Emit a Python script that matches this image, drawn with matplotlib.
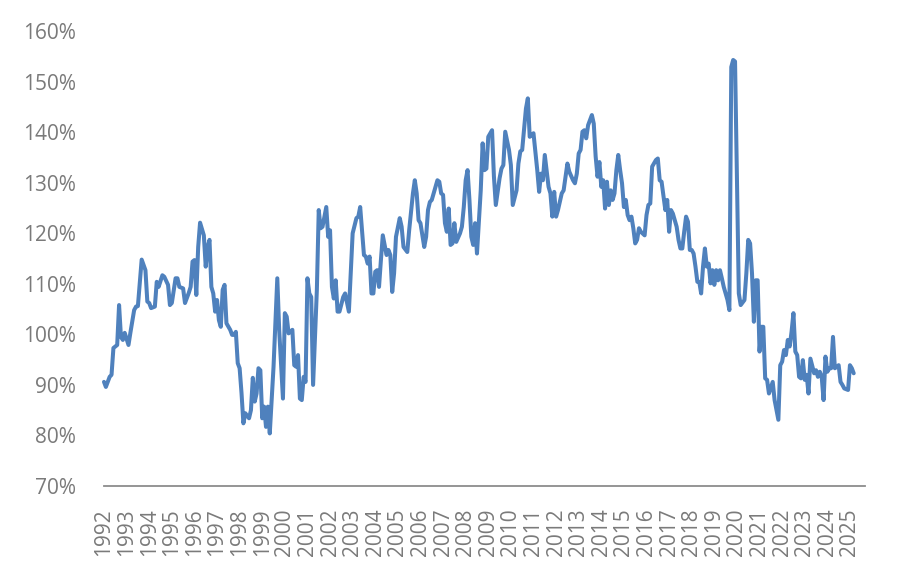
import matplotlib
matplotlib.use("Agg")
import matplotlib.pyplot as plt
import numpy as np

# months counted from Jan 1992, value in %
month_offset = [
    0, 1, 3, 4, 5, 7, 8, 9, 10, 11, 13, 14, 16, 17, 18, 20, 22, 23, 24, 25, 27, 28, 29, 31, 32, 34, 35,
    36, 38, 39, 40, 42, 43, 45, 46, 47, 48, 49, 50, 51, 53, 54, 55, 56, 57, 58, 59, 60, 61, 62, 63, 64,
    65, 67, 68, 69, 70, 71, 72, 73, 74, 75, 77, 78, 79,
    80, 81, 82, 83, 84, 85, 86, 87, 88, 90, 92, 93, 95, 96, 97, 98, 100, 101, 102, 103, 104, 105, 106,
    107, 108, 109, 110, 111, 113, 114, 115, 116, 118, 119, 120, 121, 122, 123, 124, 125, 127, 128, 130,
    131, 132, 134, 135, 136, 138, 139, 140, 141, 142, 143, 144, 145, 146, 147, 148, 150, 151, 152, 153,
    154, 155, 157, 158, 159, 161, 162,
    164, 165, 166, 167, 168, 169, 170, 171, 172, 173, 174, 176, 177, 178, 179, 180, 181, 182, 183, 184,
    185, 186, 187, 189, 190, 191, 192, 193, 194, 195, 196, 197, 198, 200, 201, 202, 203, 204, 206, 207,
    208, 210, 211, 212, 213, 215, 216, 217, 219, 220, 221, 222, 224, 225, 226, 227, 228, 230, 231, 232,
    233, 234, 236, 237, 238, 239, 240, 241, 243, 244,
    246, 247, 249, 250, 251, 252, 253, 254, 255, 256, 257, 259, 260, 261, 262, 263, 264, 265, 266, 267,
    268, 269, 270, 271, 272, 273, 274, 275, 276, 277, 278, 279, 280, 281, 282, 283, 284, 285, 287, 288,
    289, 290, 291, 293, 294, 295, 296, 298, 299, 300, 301, 302, 304, 305, 306, 307, 308, 309, 310, 311,
    312, 313, 314, 315, 316, 317, 318, 319, 320, 321, 322, 323, 324, 325, 326, 327,
    328, 329, 331, 332, 333, 334, 335, 337, 338, 340, 341, 342, 343, 344, 345, 346, 347, 348, 349, 350,
    351, 352, 353, 355, 356, 358, 359, 360, 361, 362, 363, 364, 365, 366, 367, 368, 369, 370, 371, 372,
    373, 374, 375, 377, 378, 379, 380, 381, 382, 383, 384, 385, 386, 387, 388, 389, 390, 391, 392, 393,
    395, 396, 397, 398,
]
value = [
    90.6, 89.6, 91.6, 92.0, 97.3, 97.9, 105.8, 99.5, 98.9, 100.3, 97.9, 100.3, 104.8, 105.5, 105.6, 114.8,
    112.7, 106.5, 106.2, 105.2, 105.5, 110.4, 109.4, 111.7, 111.4, 109.8, 105.8,
    106.2, 111.1, 111.1, 109.4, 109.1, 106.2, 108.2, 109.4, 114.4, 114.7, 107.8, 117.3, 122.1, 119.6,
    113.4, 117.3, 118.7, 109.4, 108.1, 104.5, 106.8, 102.8, 101.5, 108.8, 109.8,
    102.2, 100.9, 99.9, 99.9, 100.5, 94.3, 93.3, 88.4, 82.4, 84.4, 83.4, 85.0, 91.4,
    86.7, 88.3, 93.3, 92.9, 83.4, 85.7, 81.7, 85.7, 80.4, 93.6, 111.1, 100.9, 87.3, 104.2, 103.5, 100.2,
    100.9, 93.9, 93.6, 95.9, 87.3, 87.0, 91.6, 90.6, 111.1, 108.1, 107.4, 90.0, 108.8, 124.6, 121.0,
    121.3, 125.2, 119.3, 120.6, 109.4, 107.1, 110.7, 104.5, 104.5, 107.4, 108.1, 104.5, 112.1, 120.0,
    123.0, 123.3, 125.2, 115.7, 115.4, 114.0, 115.4, 108.1, 108.1, 112.4, 112.7, 109.4, 114.7, 119.6,
    115.7, 116.7, 115.7, 108.4, 112.1, 119.3, 123.0, 121.3, 117.3, 116.3, 120.6,
    127.9, 130.5, 127.9, 122.6, 122.0, 119.6, 117.3, 119.3, 124.6, 126.2, 126.6, 129.2, 130.5, 130.2,
    127.9, 127.6, 122.0, 120.3, 124.9, 117.7, 118.0, 122.0, 118.3, 120.0, 121.3, 125.2, 130.5, 132.5,
    126.6, 119.3, 117.7, 122.0, 116.0, 128.5, 137.8, 132.5, 132.8, 139.1, 140.4, 131.2, 125.6, 130.9,
    132.8, 133.5, 140.1, 136.5, 133.5, 125.6, 128.5, 133.8, 136.2, 136.5, 144.7, 146.7, 139.1, 139.4,
    139.8, 132.5, 128.2, 131.8, 130.5, 135.5, 129.2, 127.9, 123.3, 128.2, 123.3, 124.6, 127.9, 128.5,
    133.8, 132.2, 130.5, 129.9, 131.8, 135.8, 136.5, 140.1, 140.4, 138.8, 141.4, 143.4, 141.7, 135.2,
    131.2, 134.1, 129.2, 130.5, 124.9, 130.2, 125.6, 128.5, 126.6, 127.9, 132.5, 135.5, 132.5, 129.9,
    125.2, 126.6, 123.6, 122.6, 123.3, 121.0, 118.0, 118.7, 121.0, 120.3, 119.6, 123.6, 125.6, 125.9,
    133.2, 134.5, 134.8, 130.5, 130.2, 124.6, 126.6, 120.3, 124.6, 123.9, 121.3, 118.7, 117.0, 117.0,
    120.3, 123.3, 122.3, 116.7, 116.7, 116.0, 113.4, 110.4, 110.4, 108.1, 113.4, 117.0, 113.4, 114.0,
    110.1, 112.7, 109.8, 112.7, 110.7, 112.7,
    111.1, 109.4, 106.8, 104.8, 152.9, 154.3, 154.0, 108.1, 105.8, 106.8, 112.1, 118.7, 118.0, 112.1,
    102.5, 110.7, 110.7, 96.6, 101.5, 101.5, 91.3, 91.0, 88.3, 90.6, 87.0, 83.1, 93.9, 94.6, 96.9, 95.9,
    98.9, 97.6, 100.5, 104.2, 96.6, 95.9, 91.6, 91.3, 94.9, 91.0, 92.0, 88.3, 95.2, 92.3, 92.9, 91.6,
    92.6, 91.6, 87.0, 95.6, 92.6, 93.3, 93.3, 99.5, 93.3, 93.6, 93.9, 90.6, 90.0, 89.3, 89.0, 93.9,
    93.3, 92.3,
]
years = list(range(1992, 2026))

grey = "#7a7a7a"
plt.rcParams["font.family"] = ["Open Sans", "DejaVu Sans"]

fig = plt.figure(figsize=(9.02, 5.88), dpi=100)
ax = fig.add_axes([0.1153, 0.1735, 0.8437, 0.7735])

ax.plot(month_offset, value, color="#4F81BD", linewidth=2.9, solid_joinstyle="round",
        solid_capstyle="round", clip_on=False)

ax.set_xlim(0, 404)
ax.set_ylim(70, 160)
ax.set_yticks(np.arange(70, 161, 10))
ax.set_yticklabels([f"{v}%" for v in range(70, 161, 10)])
ax.set_xticks([12 * k for k in range(len(years))])
ax.set_xticklabels([str(y) for y in years], rotation=90, va="top", ha="center")

ax.tick_params(axis="y", length=0, pad=20, labelsize=15, labelcolor=grey)
ax.tick_params(axis="x", length=0, pad=16, labelsize=15, labelcolor=grey)

for s in ["top", "right", "left"]:
    ax.spines[s].set_visible(False)
ax.spines["bottom"].set_color("#8c8c8c")
ax.spines["bottom"].set_linewidth(1.3)

fig.savefig("out.png", dpi=100)
